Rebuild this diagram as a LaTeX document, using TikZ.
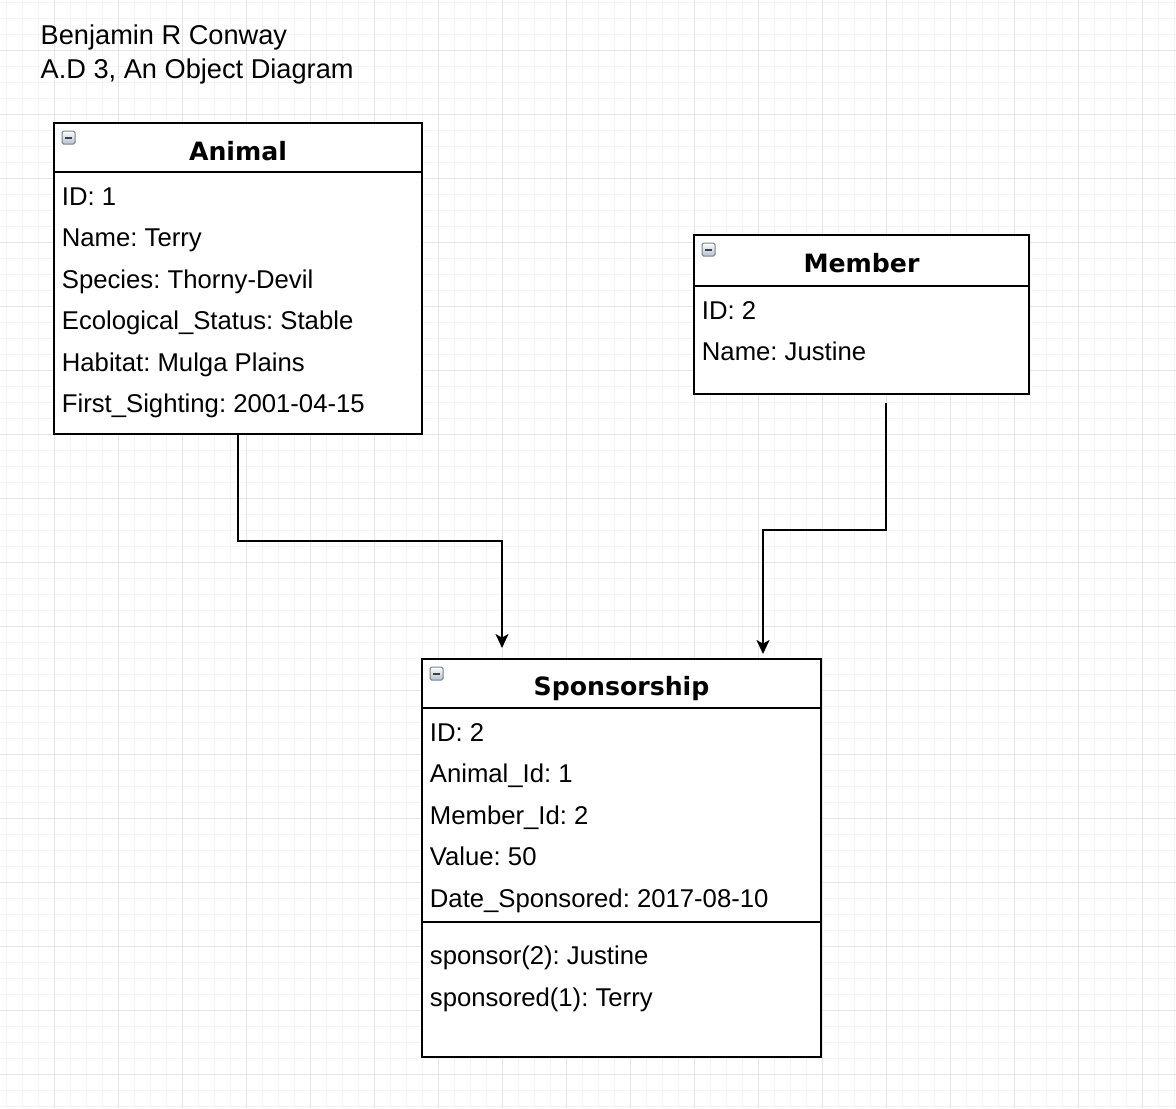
\documentclass[tikz,border=0pt]{standalone}
\usepackage{fontspec}
\setmainfont{Liberation Sans}
\newfontfamily\titlefont{DejaVu Sans}
\usetikzlibrary{arrows.meta}
\frenchspacing

\definecolor{gridminor}{HTML}{F4F4F4}
\definecolor{gridmajor}{HTML}{E4E4E4}
\definecolor{iconfill}{HTML}{B3C1CF}
\definecolor{icondraw}{HTML}{75838F}

\tikzset{
  classbox/.style={draw, line width=1pt, fill=white, rectangle, anchor=north west, inner sep=0pt, outer sep=0pt},
  sepline/.style={line width=1pt},
  ctitle/.style={anchor=base, inner sep=0pt, font=\titlefont\bfseries\fontsize{12.6}{15}\selectfont},
  attr/.style={anchor=base west, inner sep=0pt, font=\fontsize{12.85}{15}\selectfont},
  headtext/.style={anchor=base west, inner sep=0pt, font=\fontsize{13.6}{16}\selectfont},
  icon/.style={draw=icondraw, line width=0.5pt, rounded corners=0.8pt, top color=white, bottom color=iconfill,
    anchor=north west, minimum size=6.5pt, inner sep=0pt, outer sep=0pt,
    path picture={\draw[line width=1pt, black!75] ([xshift=1.5pt]path picture bounding box.west) -- ([xshift=-1.5pt]path picture bounding box.east);}},
  conn/.style={line width=1pt, -{Stealth[length=7pt,width=6.5pt,inset=1.8pt]}}
}

\begin{document}
\begin{tikzpicture}[x=0.5pt,y=-0.5pt]
  \useasboundingbox (0,0) rectangle (1176,1108);
  \fill[white] (0,0) rectangle (1176,1108);

% background grid
\foreach \gx in {6,22,...,1174} \draw[gridminor, line width=0.5pt] (\gx,0) -- (\gx,1108);
\foreach \gy in {2,18,...,1106} \draw[gridminor, line width=0.5pt] (0,\gy) -- (1176,\gy);
\foreach \gx in {54,118,...,1142} \draw[gridmajor, line width=0.5pt] (\gx,0) -- (\gx,1108);
\foreach \gy in {50,114,...,1074} \draw[gridmajor, line width=0.5pt] (0,\gy) -- (1176,\gy);

\node[headtext] (hd1) at (40.3,44.3) {Benjamin R Conway};
\node[headtext] (hd2) at (40.3,78.3) {A.D 3, An Object Diagram};

% Animal
\node[classbox, minimum width=184pt, minimum height=155.5pt] (c1) at (54,123) {};
\draw[sepline] ([yshift=-24.5pt]c1.north west) -- ([yshift=-24.5pt]c1.north east);
\node[icon] (c1_i) at (62,131) {};
\node[ctitle] (c1_t) at (238,160) {Animal};
\node[attr] (c1_a1) at (61.5,205) {ID: 1};
\node[attr] (c1_a2) at (61.5,246.5) {Name: Terry};
\node[attr] (c1_a3) at (61.5,288) {Species: Thorny-Devil};
\node[attr] (c1_a4) at (61.5,329.5) {Ecological\_Status: Stable};
\node[attr] (c1_a5) at (61.5,371) {Habitat: Mulga Plains};
\node[attr] (c1_a6) at (61.5,412.5) {First\_Sighting: 2001-04-15};

% Member
\node[classbox, minimum width=167.5pt, minimum height=79.5pt] (c2) at (694,235) {};
\draw[sepline] ([yshift=-25.5pt]c2.north west) -- ([yshift=-25.5pt]c2.north east);
\node[icon] (c2_i) at (702,243) {};
\node[ctitle] (c2_t) at (861.5,272) {Member};
\node[attr] (c2_a1) at (701.5,319) {ID: 2};
\node[attr] (c2_a2) at (701.5,360) {Name: Justine};

% Sponsorship
\node[classbox, minimum width=199.5pt, minimum height=199pt] (c3) at (422,659) {};
\draw[sepline] ([yshift=-24.5pt]c3.north west) -- ([yshift=-24.5pt]c3.north east);
\draw[sepline] ([yshift=-131.5pt]c3.north west) -- ([yshift=-131.5pt]c3.north east);
\node[icon] (c3_i) at (430,667) {};
\node[ctitle] (c3_t) at (621.5,695) {Sponsorship};
\node[attr] (c3_a1) at (429.5,741) {ID: 2};
\node[attr] (c3_a2) at (429.5,782.5) {Animal\_Id: 1};
\node[attr] (c3_a3) at (429.5,824) {Member\_Id: 2};
\node[attr] (c3_a4) at (429.5,865.5) {Value: 50};
\node[attr] (c3_a5) at (429.5,907) {Date\_Sponsored: 2017-08-10};
\node[attr] (c3_m1) at (429.5,964.5) {sponsor(2): Justine};
\node[attr] (c3_m2) at (429.5,1006) {sponsored(1): Terry};

% links
\coordinate (c2_out) at (886,394);
\coordinate (c3_in1) at (502,659);
\coordinate (c3_in2) at (763,659);
\draw[conn, shorten >=5.5pt] (c1.south) -- ++(0,107) -| (c3_in1);
\draw[conn, shorten <=4.5pt, shorten >=2.5pt] (c2_out) -- ++(0,136) -| (c3_in2);
\end{tikzpicture}
\end{document}
